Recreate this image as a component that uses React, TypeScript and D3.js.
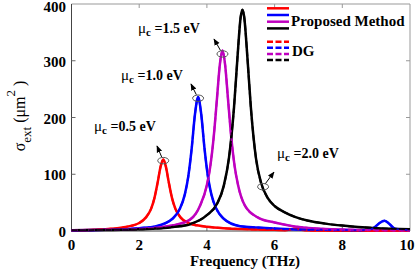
import React from "react";
import * as d3 from "d3";

// Extinction cross-section (um^2) vs frequency (THz)
const redFreq = [0, 1.0, 1.5, 1.75, 2.0, 2.2, 2.35, 2.45, 2.55, 2.63, 2.71, 2.79, 2.87, 2.97, 3.07, 3.22, 3.42, 3.7, 4.0, 4.5, 5.0, 5.5, 6.0, 6.3, 6.6, 6.9, 8.0, 10];
const redValue = [1.0, 3, 6, 9, 14, 24, 39, 58, 87, 113, 126, 113, 87, 58, 39, 24, 15, 10, 7.5, 5, 3.5, 2.5, 2, 1.5, 4, 1.2, 0.5, 0.3];

const blueFreq = [0, 1.0, 2.0, 2.5, 3.0, 3.2, 3.35, 3.45, 3.55, 3.65, 3.74, 3.83, 3.93, 4.03, 4.13, 4.28, 4.48, 4.98, 5.5, 6.5, 7.5, 8.5, 8.85, 9.0, 9.1, 9.25, 9.4, 9.55, 9.8, 10];
const blueValue = [1, 2, 5, 8.5, 22.5, 39, 65, 96, 145, 207, 236, 207, 145, 96, 65, 39, 22.5, 8.5, 6, 3, 2, 1.5, 3, 9, 14, 18, 12, 4, 2, 1.5];

const magentaFreq = [0, 1, 2, 3, 3.5, 3.8, 4.0, 4.1, 4.2, 4.3, 4.38, 4.46, 4.54, 4.62, 4.72, 4.82, 4.92, 5.12, 5.5, 6.0, 6.5, 7.0, 7.5, 8.0, 9, 10];
const magentaValue = [1.2, 2, 3.8, 10, 20, 45, 81, 114, 165, 235, 292, 318, 292, 235, 165, 114, 81, 45, 24, 15, 9, 5.5, 3.5, 2.5, 1.5, 1];

const blackFreq = [0, 1, 2, 3, 3.5, 4.0, 4.3, 4.5, 4.65, 4.8, 4.9, 5.0, 5.05, 5.1, 5.2, 5.3, 5.45, 5.6, 5.8, 6.0, 6.3, 6.6, 7.0, 7.5, 8, 9, 10];
const blackValue = [1.2, 1.8, 3, 7, 12, 28, 48, 80, 128, 217, 303, 378, 390, 378, 303, 217, 128, 85, 58, 44, 33, 25, 18, 13, 9.5, 5, 3];

const seriesColors = ["#ff0000", "#0000ff", "#bf00bf", "#000000"];
const xTicks = [0, 2, 4, 6, 8, 10];
const yTicks = [0, 100, 200, 300, 400];

// annotation: label, peak frequency, peak value
const annLabels = ["=0.5 eV", "=1.0 eV", "=1.5 eV", "=2.0 eV"];
const annFreq = [2.71, 3.74, 4.46, 5.66];
const annValue = [124, 234, 312, 78];

const legendNames = ["Proposed Method", "DG"];

const W = 415;
const H = 270;
const serif = "'Liberation Serif', 'Times New Roman', serif";

export default function App() {
  const x = d3.scaleLinear().domain([0, 10]).range([71.5, 410]);
  const y = d3.scaleLinear().domain([0, 400]).range([231, 4]);

  const series = [
    { f: redFreq, v: redValue },
    { f: blueFreq, v: blueValue },
    { f: magentaFreq, v: magentaValue },
    { f: blackFreq, v: blackValue },
  ];

  const line = d3
    .line<[number, number]>()
    .x((d) => x(d[0]))
    .y((d) => y(d[1]))
    .curve(d3.curveMonotoneX);

  const paths = series.map((s) => line(s.f.map((f, i) => [f, s.v[i]])) || "");

  // where the labels sit relative to their peak marker
  const labelPos = [
    { tx: 94, ty: 131, ax: 157, ay: 146 },
    { tx: 121, ty: 80, ax: 191, ay: 84 },
    { tx: 138, ty: 33, ax: 214, ay: 39 },
    { tx: 277, ty: 158, ax: 274, ay: 172 },
  ];

  return (
    <svg
      width={W}
      height={H}
      style={{ position: "absolute", left: 0, top: 0, background: "#fff" }}
      fontFamily={serif}
    >
      <defs>
        <marker id="arr" viewBox="0 0 10 10" refX="9" refY="5" markerWidth="7" markerHeight="7" orient="auto-start-reverse">
          <path d="M0,1 L10,5 L0,9 z" fill="#000" />
        </marker>
      </defs>
      <rect x={0} y={0} width={W} height={H} fill="#fff" />

      {/* box */}
      <line x1={71.5} x2={410} y1={4} y2={4} stroke="#999" strokeWidth={1} />
      <line x1={410} x2={410} y1={4} y2={231} stroke="#999" strokeWidth={1} />
      <line x1={71.5} x2={71.5} y1={4} y2={231} stroke="#444" strokeWidth={1} />
      <line x1={71.5} x2={410} y1={231} y2={231} stroke="#444" strokeWidth={1} />

      {/* ticks */}
      {xTicks.slice(1, -1).map((t) => (
        <g key={"xt" + t}>
          <line x1={x(t)} x2={x(t)} y1={231} y2={227} stroke="#666" />
          <line x1={x(t)} x2={x(t)} y1={4} y2={8} stroke="#999" />
        </g>
      ))}
      {yTicks.slice(1, -1).map((t) => (
        <g key={"yt" + t}>
          <line x1={71.5} x2={75.5} y1={y(t)} y2={y(t)} stroke="#666" />
          <line x1={410} x2={406} y1={y(t)} y2={y(t)} stroke="#999" />
        </g>
      ))}

      {/* tick labels */}
      {xTicks.map((t) => (
        <text key={"xl" + t} x={t === 10 ? x(t) - 3 : x(t)} y={250} textAnchor="middle" fontSize={15} fontWeight="bold">
          {t}
        </text>
      ))}
      {yTicks.map((t) => (
        <text key={"yl" + t} x={66} y={t === 400 ? y(t) + 8 : y(t) + 6} textAnchor="end" fontSize={15} fontWeight="bold">
          {t}
        </text>
      ))}

      <text x={245} y={266} textAnchor="middle" fontSize={15} fontWeight="bold">
        Frequency (THz)
      </text>

      <text transform="translate(25,116) rotate(-90)" textAnchor="middle" fontSize={16}>
        σ<tspan dy={6} fontSize={13}>ext</tspan>
        <tspan dy={-6}>{"   (μm"}</tspan>
        <tspan dy={-10} fontSize={13}>2</tspan>
        <tspan dy={10}>{" )"}</tspan>
      </text>

      {/* curves: proposed (solid) and DG (dashed) on top */}
      {paths.map((d, i) => (
        <path key={"s" + i} d={d} fill="none" stroke={seriesColors[i]} strokeWidth={2.5} />
      ))}
      {paths.map((d, i) => (
        <path key={"d" + i} d={d} fill="none" stroke={seriesColors[i]} strokeWidth={2} strokeDasharray="6,2.5" opacity={0.85} />
      ))}

      {/* annotations */}
      {annLabels.map((lab, i) => {
        const cx = x(annFreq[i]);
        const cy = y(annValue[i]);
        const p = labelPos[i];
        const dx = p.ax - cx;
        const dy = p.ay - cy;
        const len = Math.hypot(dx, dy);
        const sx = cx + (dx / len) * 4;
        const sy = cy + (dy / len) * 4;
        return (
          <g key={"a" + i}>
            <ellipse cx={cx} cy={cy} rx={5.5} ry={3.2} fill="none" stroke="#555" strokeWidth={1} />
            <line x1={sx} y1={sy} x2={p.ax} y2={p.ay} stroke="#000" strokeWidth={1} markerEnd="url(#arr)" />
            <text x={p.tx} y={p.ty} fontSize={14} fontWeight="bold">
              <tspan fontWeight="normal" fontSize={15}>μ</tspan>
              <tspan dy={3} fontSize={11}>c</tspan>
              <tspan dy={-3}>{" " + lab}</tspan>
            </text>
          </g>
        );
      })}

      {/* legend */}
      {seriesColors.map((c, i) => (
        <line key={"ls" + i} x1={267} x2={289} y1={8.3 + i * 6.7} y2={8.3 + i * 6.7} stroke={c} strokeWidth={2.5} />
      ))}
      {seriesColors.map((c, i) => (
        <line key={"ld" + i} x1={267} x2={289} y1={41.7 + i * 6.1} y2={41.7 + i * 6.1} stroke={c} strokeWidth={2.5} strokeDasharray="6,2.5" />
      ))}
      <text x={291} y={26} fontSize={15} fontWeight="bold">
        {legendNames[0]}
      </text>
      <text x={292} y={56} fontSize={15} fontWeight="bold">
        {legendNames[1]}
      </text>
    </svg>
  );
}
